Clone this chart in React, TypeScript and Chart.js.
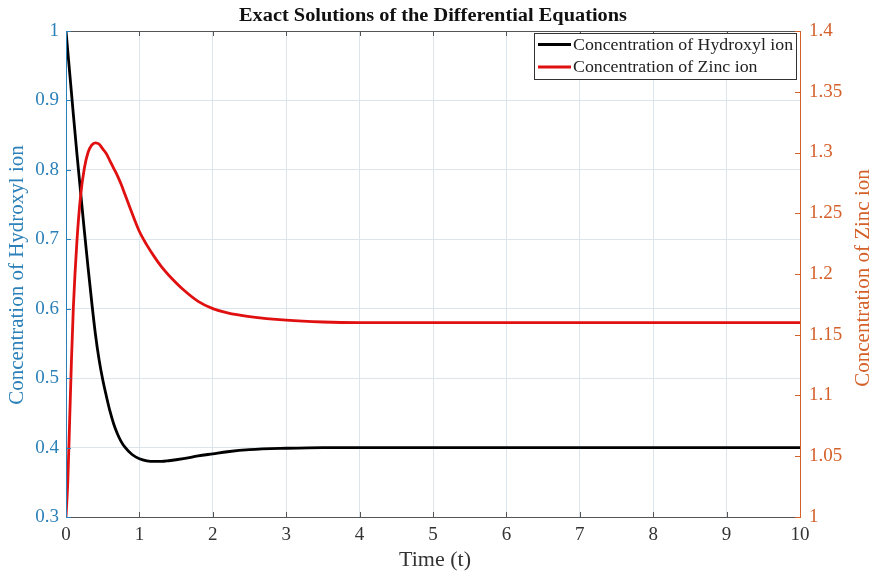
import React, { useEffect, useRef } from "react";
import { Chart, registerables } from "chart.js";

Chart.register(...registerables);

const timePoints = [0, 0.025, 0.05, 0.075, 0.1, 0.15, 0.2, 0.25, 0.3, 0.35, 0.4, 0.45, 0.5, 0.55, 0.6, 0.65, 0.7, 0.75, 0.8, 0.9, 1.0, 1.1, 1.2, 1.3, 1.4, 1.6, 1.8, 2.0, 2.2, 2.5, 3.0, 3.5, 4, 5, 6, 7, 8, 9, 10];
const hydroxylValues = [1.0, 0.97, 0.94, 0.91, 0.88, 0.822, 0.767, 0.712, 0.66, 0.61, 0.564, 0.527, 0.498, 0.474, 0.452, 0.434, 0.42, 0.409, 0.401, 0.39, 0.384, 0.381, 0.38, 0.38, 0.381, 0.384, 0.388, 0.391, 0.394, 0.397, 0.399, 0.4, 0.4, 0.4, 0.4, 0.4, 0.4, 0.4, 0.4];
const zincValues = [1.0, 1.03, 1.08, 1.13, 1.172, 1.228, 1.265, 1.287, 1.3, 1.306, 1.308, 1.307, 1.303, 1.299, 1.293, 1.287, 1.281, 1.274, 1.266, 1.25, 1.235, 1.224, 1.2145, 1.206, 1.199, 1.187, 1.1775, 1.1715, 1.168, 1.165, 1.162, 1.1605, 1.16, 1.16, 1.16, 1.16, 1.16, 1.16, 1.16];

const titleText = "Exact Solutions of the Differential Equations";
const xAxisTitle = "Time (t)";
const leftAxisTitle = "Concentration of Hydroxyl ion";
const rightAxisTitle = "Concentration of Zinc ion";
const hydroxylLabel = "Concentration of Hydroxyl ion";
const zincLabel = "Concentration of Zinc ion";

const BLUE = "#2b80b9";
const ORANGE = "#d4602a";
const GRID = "#dde5ec";
const AXIS = "#555555";
const FONT = "'Liberation Serif', 'Times New Roman', serif";
const STRETCH = 1.1;

const fmt = (v: number) => String(Number(Number(v).toFixed(2)));

function stretchedText(ctx: any, text: string, x: number, y: number) {
  ctx.save();
  ctx.translate(x, y);
  ctx.scale(STRETCH, 1);
  ctx.fillText(text, 0, 0);
  ctx.restore();
}

const decorPlugin = {
  id: "decor",
  afterDraw(chart: any) {
    const { ctx, chartArea } = chart;
    const { left, right, top, bottom } = chartArea;
    const xs = chart.scales.x;
    const yl = chart.scales.y;
    const yr = chart.scales.y1;
    const tl = 5;
    ctx.save();
    ctx.lineWidth = 1;
    ctx.strokeStyle = AXIS;
    ctx.beginPath();
    ctx.moveTo(left, bottom + 0.5);
    ctx.lineTo(right, bottom + 0.5);
    ctx.moveTo(left, top + 0.5);
    ctx.lineTo(right, top + 0.5);
    xs.ticks.forEach((t: any) => {
      const px = Math.round(xs.getPixelForValue(t.value)) + 0.5;
      ctx.moveTo(px, bottom);
      ctx.lineTo(px, bottom - tl);
      ctx.moveTo(px, top);
      ctx.lineTo(px, top + tl);
    });
    ctx.stroke();
    ctx.strokeStyle = BLUE;
    ctx.beginPath();
    ctx.moveTo(left + 0.5, top);
    ctx.lineTo(left + 0.5, bottom + 1);
    yl.ticks.forEach((t: any) => {
      const py = Math.round(yl.getPixelForValue(t.value)) + 0.5;
      ctx.moveTo(left, py);
      ctx.lineTo(left + tl, py);
    });
    ctx.stroke();
    ctx.strokeStyle = ORANGE;
    ctx.beginPath();
    ctx.moveTo(right + 0.5, top);
    ctx.lineTo(right + 0.5, bottom + 1);
    yr.ticks.forEach((t: any) => {
      const py = Math.round(yr.getPixelForValue(t.value)) + 0.5;
      ctx.moveTo(right, py);
      ctx.lineTo(right - tl, py);
    });
    ctx.stroke();

    const cx = (left + right) / 2;
    const cy = (top + bottom) / 2;
    ctx.textAlign = "center";
    ctx.textBaseline = "middle";
    ctx.fillStyle = "#111111";
    ctx.font = `bold 18.5px ${FONT}`;
    stretchedText(ctx, titleText, cx, 16);
    ctx.font = `20px ${FONT}`;
    ctx.fillStyle = "#333333";
    stretchedText(ctx, xAxisTitle, cx + 2, 561);
    ctx.font = `21px ${FONT}`;
    ctx.save();
    ctx.translate(17, cy + 1);
    ctx.rotate(-Math.PI / 2);
    ctx.fillStyle = BLUE;
    ctx.fillText(leftAxisTitle, 0, 0);
    ctx.restore();
    ctx.save();
    ctx.translate(863, cy + 4);
    ctx.rotate(-Math.PI / 2);
    ctx.fillStyle = ORANGE;
    ctx.fillText(rightAxisTitle, 0, 0);
    ctx.restore();

    const bx = 534, by = 33, bw = 262, bh = 46;
    ctx.fillStyle = "#ffffff";
    ctx.fillRect(bx, by, bw, bh);
    ctx.strokeStyle = "#333333";
    ctx.lineWidth = 1;
    ctx.strokeRect(bx + 0.5, by + 0.5, bw, bh);
    ctx.font = `16.2px ${FONT}`;
    ctx.textAlign = "left";
    chart.data.datasets.forEach((ds: any, i: number) => {
      const ly = by + 11.5 + i * 22.5;
      ctx.strokeStyle = ds.borderColor;
      ctx.lineWidth = 2.8;
      ctx.beginPath();
      ctx.moveTo(bx + 4, ly);
      ctx.lineTo(bx + 37, ly);
      ctx.stroke();
      ctx.fillStyle = "#222222";
      stretchedText(ctx, ds.label, bx + 39, ly + 1);
    });
    ctx.restore();
  },
};

export default function App() {
  const ref = useRef<HTMLCanvasElement>(null);
  useEffect(() => {
    document.body.style.margin = "0";
    const canvas = ref.current;
    if (!canvas) return;
    const chart = new Chart(canvas, {
      type: "line",
      data: {
        datasets: [
          {
            label: hydroxylLabel,
            data: timePoints.map((t, i) => ({ x: t, y: hydroxylValues[i] })),
            borderColor: "#000000",
            borderWidth: 2.8,
            pointRadius: 0,
            cubicInterpolationMode: "monotone",
            yAxisID: "y",
            order: 2,
          },
          {
            label: zincLabel,
            data: timePoints.map((t, i) => ({ x: t, y: zincValues[i] })),
            borderColor: "#e01010",
            borderWidth: 2.8,
            pointRadius: 0,
            cubicInterpolationMode: "monotone",
            yAxisID: "y1",
            order: 1,
          },
        ],
      },
      options: {
        animation: false,
        responsive: true,
        maintainAspectRatio: false,
        layout: { padding: { top: 31, left: 0, right: 0, bottom: 0 } },
        plugins: {
          legend: { display: false },
          title: { display: false },
          tooltip: { enabled: false },
        },
        scales: {
          x: {
            type: "linear",
            min: 0,
            max: 10,
            ticks: {
              stepSize: 1,
              color: "#333333",
              font: { family: FONT, size: 19 },
              padding: 7,
              maxRotation: 0,
              callback: (v: any) => fmt(v),
            },
            grid: { color: GRID, drawTicks: false },
            border: { display: false },
            afterFit: (s: any) => { s.height = 55; },
          },
          y: {
            type: "linear",
            position: "left",
            min: 0.3,
            max: 1,
            ticks: {
              stepSize: 0.1,
              color: BLUE,
              font: { family: FONT, size: 19 },
              padding: 7,
              callback: (v: any) => fmt(v),
            },
            grid: { color: GRID, drawTicks: false },
            border: { display: false },
            afterFit: (s: any) => { s.width = 66; },
          },
          y1: {
            type: "linear",
            position: "right",
            min: 1,
            max: 1.4,
            ticks: {
              stepSize: 0.05,
              color: ORANGE,
              font: { family: FONT, size: 19 },
              padding: 9,
              callback: (v: any) => fmt(v),
            },
            grid: { display: false, drawTicks: false },
            border: { display: false },
            afterFit: (s: any) => { s.width = 73; },
          },
        },
      },
      plugins: [decorPlugin],
    });
    return () => chart.destroy();
  }, []);
  return (
    <div style={{ position: "relative", width: 873, height: 572 }}>
      <canvas ref={ref} />
    </div>
  );
}
